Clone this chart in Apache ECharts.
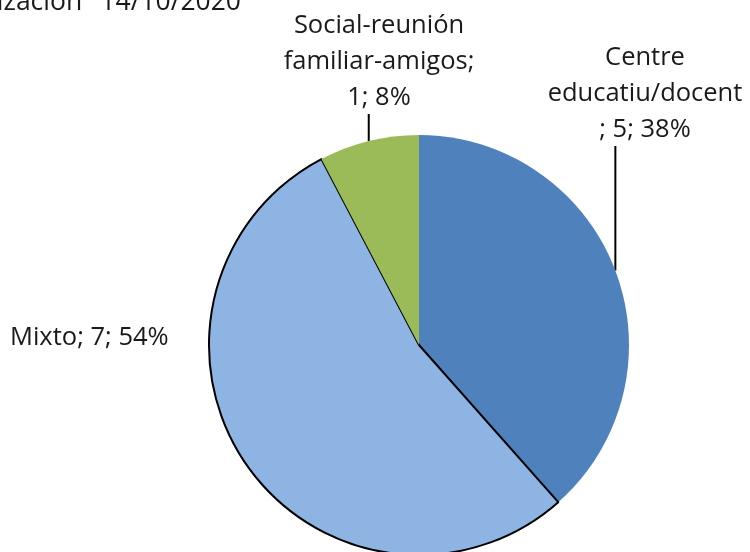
<!DOCTYPE html>
<html>
<head>
<meta charset="utf-8">
<script src="https://cdn.jsdelivr.net/npm/echarts@6/dist/echarts.min.js"></script>
<style>
  html, body { margin: 0; padding: 0; background: #fff; }
  #chart { width: 750px; height: 552px; }
</style>
</head>
<body>
<div id="chart"></div>
<script>
// Cases by setting
const categories = ['Centre educatiu/docent', 'Mixto', 'Social-reunión familiar-amigos'];
const counts = [5, 7, 1];
// Wrapped label text (name part) for each slice
const labelHeads = ['Centre\neducatiu/docent\n', 'Mixto', 'Social-reunión\nfamiliar-amigos;\n'];
const labelSeps = ['; ', '; ', ''];
const sliceColors = ['#4F81BD', '#8EB4E3', '#9BBB59'];
const titleText = 'Fecha de actualización \u2009 14/10/2020';

const FONT = '"Open Sans", "Noto Sans", sans-serif';
const CX = 419, CY = 345, R = 210;
// label anchor positions (block top-left / centre)
const labelPos = [
  { x: 645, y: 40, align: 'center' },
  { x: 10, y: 320, align: 'left' },
  { x: 379, y: 8, align: 'center' }
];

const total = counts.reduce((a, b) => a + b, 0);
function midEdgePoint(i) {
  let before = 0;
  for (let k = 0; k < i; k++) before += counts[k];
  const a = ((before + counts[i] / 2) / total) * 2 * Math.PI; // clockwise from top
  return [CX + R * Math.sin(a), CY - R * Math.cos(a)];
}

const chart = echarts.init(document.getElementById('chart'), null, { renderer: 'canvas' });
chart.setOption({
  animation: false,
  backgroundColor: '#ffffff',
  title: {
    text: titleText,
    right: 509,
    top: -13,
    padding: 0,
    textStyle: { fontFamily: FONT, fontSize: 26.5, fontWeight: 'normal', color: '#1a1a1a', lineHeight: 30 }
  },
  series: [{
    type: 'pie',
    center: [CX, CY],
    radius: R,
    startAngle: 90,
    clockwise: true,
    percentPrecision: 0,
    avoidLabelOverlap: false,
    data: categories.map((c, i) => ({
      name: c,
      value: counts[i],
      itemStyle: i === 1
        ? { color: sliceColors[i], borderColor: '#000', borderWidth: 2 }
        : { color: sliceColors[i], borderWidth: 0 },
      labelLine: { show: i !== 1 }
    })),
    label: {
      show: true,
      position: 'outside',
      fontFamily: FONT,
      fontSize: 25.5,
      lineHeight: 36,
      color: '#1a1a1a',
      formatter: p => labelHeads[p.dataIndex] + labelSeps[p.dataIndex] + p.value + '; ' + p.percent + '%'
    },
    labelLine: {
      show: true,
      lineStyle: { color: '#000', width: 2 }
    },
    labelLayout: function (params) {
      const i = params.dataIndex;
      const pos = labelPos[i];
      const out = { x: pos.x, y: pos.y, align: pos.align, verticalAlign: 'top' };
      if (i !== 1) {
        const p0 = midEdgePoint(i);
        const h = params.labelRect ? params.labelRect.height : 108;
        out.labelLinePoints = [[p0[0], p0[1]], [p0[0], pos.y + h - 2]];
      }
      return out;
    }
  }]
});
</script>
</body>
</html>
